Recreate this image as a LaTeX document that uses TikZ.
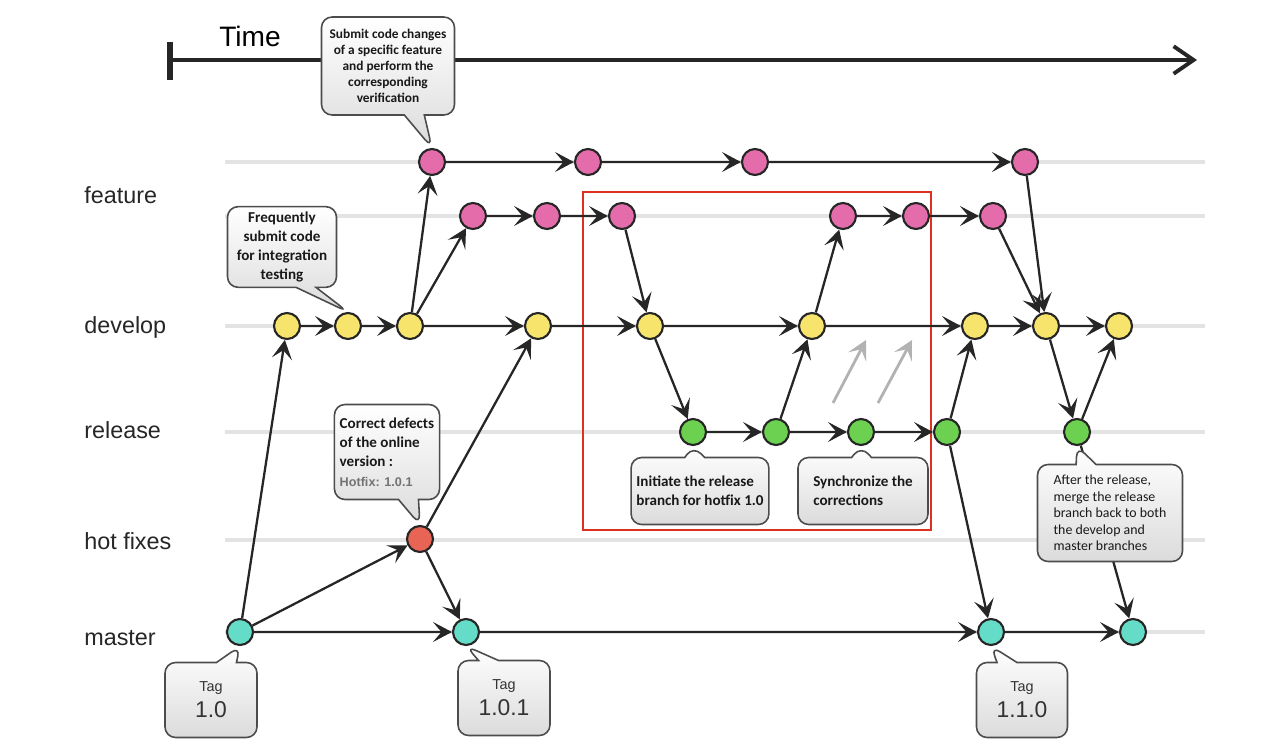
\documentclass[tikz,border=0pt]{standalone}
\usepackage{fontspec}
\setmainfont{Liberation Sans}
\newfontfamily\callfont{Carlito}
\usetikzlibrary{arrows.meta,shapes.callouts}
\definecolor{featcol}{RGB}{228,108,170}
\definecolor{devcol}{RGB}{246,228,108}
\definecolor{relcol}{RGB}{108,208,80}
\definecolor{fixcol}{RGB}{232,100,84}
\definecolor{mastcol}{RGB}{100,220,200}
\definecolor{boxred}{RGB}{222,48,30}

\begin{document}
\begin{tikzpicture}[x=0.02cm, y=-0.02cm,
    commit/.style={circle, draw=black!85, line width=1.2pt, minimum size=0.52cm, inner sep=0pt},
    lane/.style={line width=2.2pt, black!11},
    arr/.style={-{Stealth[length=3.8mm, width=4mm, inset=1.7mm]}, line width=1.3pt, black!85},
    bubble/.style={rectangle callout, rounded corners=6pt, draw=black!70, line width=0.9pt,
        top color=white, bottom color=black!14, callout pointer width=0.4cm, inner sep=3pt,
        font=\callfont\bfseries\fontsize{8.6}{11}\selectfont, text=black!90},
    tagbox/.style={bubble, minimum width=1.84cm, minimum height=1.5cm, align=center,
        font=\fontsize{8.2}{10}\selectfont, text=black!80},
    branch/.style={anchor=west, inner sep=0pt, font=\fontsize{13.3}{15}\selectfont, text=black!85}]
    \useasboundingbox (0,0) rectangle (1280,753);

    \draw[lane] (225,162) -- (1205,162);
    \draw[lane] (225,216) -- (1205,216);
    \draw[lane] (225,326) -- (1205,326);
    \draw[lane] (225,432) -- (1205,432);
    \draw[lane] (225,540) -- (1205,540);
    \draw[lane] (225,632) -- (1205,632);

    \node[branch] (lblfeat) at (84,195) {feature};
    \node[branch] (lbldev) at (84,327) {develop};
    \node[branch] (lblrel) at (84,430) {release};
    \node[branch] (lblfix) at (84,541) {hot fixes};
    \node[branch] (lblmast) at (84,638) {master};

    \coordinate (tstart) at (170,60);
    \coordinate (tend) at (1197,60);
    \draw[line width=2.2pt, black!85, -{Straight Barb[length=4mm, width=5.5mm]}] (tstart) -- (tend);
    \draw[line width=3.5pt, black!85] (170,42) -- (170,80);
    \node[anchor=west, inner sep=0pt, font=\fontsize{16}{18}\selectfont] (timelbl) at (219,36) {Time};

    \draw[boxred, line width=1.2pt] (583,192) rectangle (931,530);

    \node[commit, fill=featcol] (fa1) at (432,162) {};
    \node[commit, fill=featcol] (fa2) at (588,162) {};
    \node[commit, fill=featcol] (fa3) at (755,162) {};
    \node[commit, fill=featcol] (fa4) at (1025,162) {};
    \node[commit, fill=featcol] (fb1) at (473,216) {};
    \node[commit, fill=featcol] (fb2) at (547,216) {};
    \node[commit, fill=featcol] (fb3) at (622,216) {};
    \node[commit, fill=featcol] (fb4) at (843,216) {};
    \node[commit, fill=featcol] (fb5) at (916,216) {};
    \node[commit, fill=featcol] (fb6) at (993,216) {};
    \node[commit, fill=devcol] (dv1) at (287,326) {};
    \node[commit, fill=devcol] (dv2) at (348,326) {};
    \node[commit, fill=devcol] (dv3) at (410,326) {};
    \node[commit, fill=devcol] (dv4) at (538,326) {};
    \node[commit, fill=devcol] (dv5) at (650,326) {};
    \node[commit, fill=devcol] (dv6) at (812,326) {};
    \node[commit, fill=devcol] (dv7) at (975,326) {};
    \node[commit, fill=devcol] (dv8) at (1046,326) {};
    \node[commit, fill=devcol] (dv9) at (1119,326) {};
    \node[commit, fill=relcol] (rl1) at (693,432) {};
    \node[commit, fill=relcol] (rl2) at (776,432) {};
    \node[commit, fill=relcol] (rl3) at (861,432) {};
    \node[commit, fill=relcol] (rl4) at (947,432) {};
    \node[commit, fill=relcol] (rl5) at (1077,432) {};
    \node[commit, fill=fixcol] (hf1) at (420,539) {};
    \node[commit, fill=mastcol] (ms1) at (240,632) {};
    \node[commit, fill=mastcol] (ms2) at (466,632) {};
    \node[commit, fill=mastcol] (ms3) at (991,632) {};
    \node[commit, fill=mastcol] (ms4) at (1133,632) {};

    \draw[arr] (fa1) -- (fa2);
    \draw[arr] (fa2) -- (fa3);
    \draw[arr] (fa3) -- (fa4);
    \draw[arr] (fb1) -- (fb2);
    \draw[arr] (fb2) -- (fb3);
    \draw[arr] (fb4) -- (fb5);
    \draw[arr] (fb5) -- (fb6);
    \draw[arr] (dv1) -- (dv2);
    \draw[arr] (dv2) -- (dv3);
    \draw[arr] (dv3) -- (dv4);
    \draw[arr] (dv4) -- (dv5);
    \draw[arr] (dv5) -- (dv6);
    \draw[arr] (dv6) -- (dv7);
    \draw[arr] (dv7) -- (dv8);
    \draw[arr] (dv8) -- (dv9);
    \draw[arr] (rl1) -- (rl2);
    \draw[arr] (rl2) -- (rl3);
    \draw[arr] (rl3) -- (rl4);
    \draw[arr] (ms1) -- (ms2);
    \draw[arr] (ms2) -- (ms3);
    \draw[arr] (ms3) -- (ms4);
    \draw[arr] (ms1) -- (dv1);
    \draw[arr] (ms1) -- (hf1);
    \draw[arr] (hf1) -- (ms2);
    \draw[arr] (hf1) -- (dv4);
    \draw[arr] (dv3) -- (fa1);
    \draw[arr] (dv3) -- (fb1);
    \draw[arr] (fb3) -- (dv5);
    \draw[arr] (dv5) -- (rl1);
    \draw[arr] (rl2) -- (dv6);
    \draw[arr] (dv6) -- (fb4);
    \draw[arr] (rl4) -- (dv7);
    \draw[arr] (rl4) -- (ms3);
    \draw[arr] (fb6) -- (dv8);
    \draw[arr] (fa4) -- (dv8);
    \draw[arr] (dv8) -- (rl5);
    \draw[arr] (rl5) -- (dv9);
    \draw[arr] (rl5) -- (ms4);

    \coordinate (gs1) at (833,403);
    \coordinate (ge1) at (866,340);
    \coordinate (gs2) at (878,403);
    \coordinate (ge2) at (912,340);
    \draw[arr, black!30, line width=1.6pt] (gs1) -- (ge1);
    \draw[arr, black!30, line width=1.6pt] (gs2) -- (ge2);

    \node[bubble, minimum width=2.66cm, minimum height=1.96cm, align=center,
        font=\callfont\bfseries\fontsize{7.6}{9.1}\selectfont,
        callout absolute pointer={(fa1.north)}] (notefeat) at (388,66)
        {Submit code changes\\of a specific feature\\and perform the\\corresponding\\verification};
    \node[bubble, minimum width=2.18cm, minimum height=1.58cm, align=center,
        font=\callfont\bfseries\fontsize{8.6}{10.8}\selectfont,
        callout absolute pointer={(dv2.north)}] (noteint) at (282,247)
        {Frequently\\submit code\\for integration\\testing};
    \node[bubble, minimum width=2.02cm, minimum height=1.9cm, align=left,
        font=\callfont\bfseries\fontsize{8.6}{11}\selectfont,
        callout absolute pointer={(hf1.north)}] (notefix) at (387,452)
        {Correct defects\\of the online\\version :\\{\rmfamily\fontsize{7.2}{9}\selectfont\color{black!55}Hotfix: 1.0.1}};
    \node[bubble, minimum width=2.72cm, minimum height=1.34cm, align=left,
        callout absolute pointer={(rl1.south)}] (noterel) at (700,491)
        {Initiate the release\\branch for hotfix 1.0};
    \node[bubble, minimum width=2.6cm, minimum height=1.34cm, align=left,
        callout absolute pointer={(rl3.south)}] (notesync) at (863,491)
        {Synchronize the\\corrections};
    \node[bubble, minimum width=2.9cm, minimum height=1.94cm, align=left,
        font=\callfont\fontsize{7.9}{9.4}\selectfont,
        callout absolute pointer={(rl5.south)}] (notemerge) at (1110,513)
        {After the release,\\merge the release\\branch back to both\\the develop and\\master branches};

    \node[tagbox, callout absolute pointer={(ms1.south)}] (tag1) at (211,700)
        {Tag\\[3pt]{\fontsize{13}{15}\selectfont 1.0}};
    \node[tagbox, callout absolute pointer={(ms2.south)}] (tag2) at (504,698)
        {Tag\\[3pt]{\fontsize{13}{15}\selectfont 1.0.1}};
    \node[tagbox, minimum width=1.82cm, callout absolute pointer={(ms3.south)}] (tag3) at (1022,700)
        {Tag\\[3pt]{\fontsize{13}{15}\selectfont 1.1.0}};
\end{tikzpicture}
\end{document}
